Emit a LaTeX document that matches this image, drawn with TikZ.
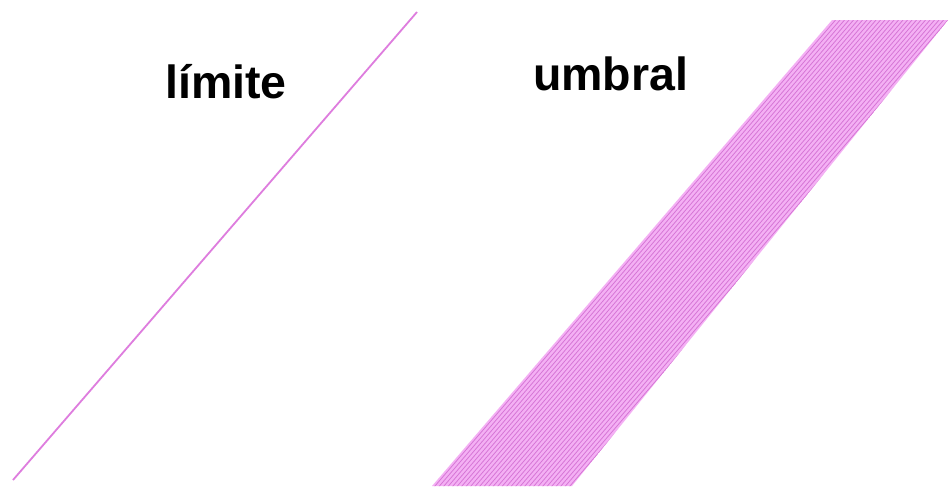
\documentclass[tikz,border=0pt]{standalone}
\usepackage{fontspec}
\setmainfont{Liberation Sans}
\definecolor{bandfill}{RGB}{244,176,244}
\definecolor{bandline}{RGB}{214,118,214}
\definecolor{limline}{RGB}{222,125,222}
\tikzset{
  label text/.style={anchor=base west, inner sep=0pt, font=\fontsize{46.5}{56}\selectfont\bfseries, text=black},
}
\begin{document}
\begin{tikzpicture}[x=1pt,y=-1pt]
\useasboundingbox (0,0) rectangle (952,488);
\fill[white] (0,0) rectangle (952,488);
% left: limit line
\coordinate (la) at (13,480);
\coordinate (lb) at (417,12);
\draw[limline, line width=1.8pt] (la) -- (lb);
\node[label text] (limite) at (165,98) {límite};
% right: threshold band
\coordinate (bl) at (432,486);
\coordinate (br) at (572,486);
\coordinate (tr) at (948,20);
\coordinate (tl) at (832,20);
\fill[bandfill] (bl) -- (br) -- (tr) -- (tl) -- cycle;
\begin{scope}
\clip (bl) -- (br) -- (tr) -- (tl) -- cycle;
\foreach \x in {400,404.5,...,620} {
  \draw[bandline, line width=0.8pt] (\x,490) -- (\x+404,20);
}
\end{scope}
\node[label text] (umbral) at (533,90) {umbral};
\end{tikzpicture}
\end{document}
